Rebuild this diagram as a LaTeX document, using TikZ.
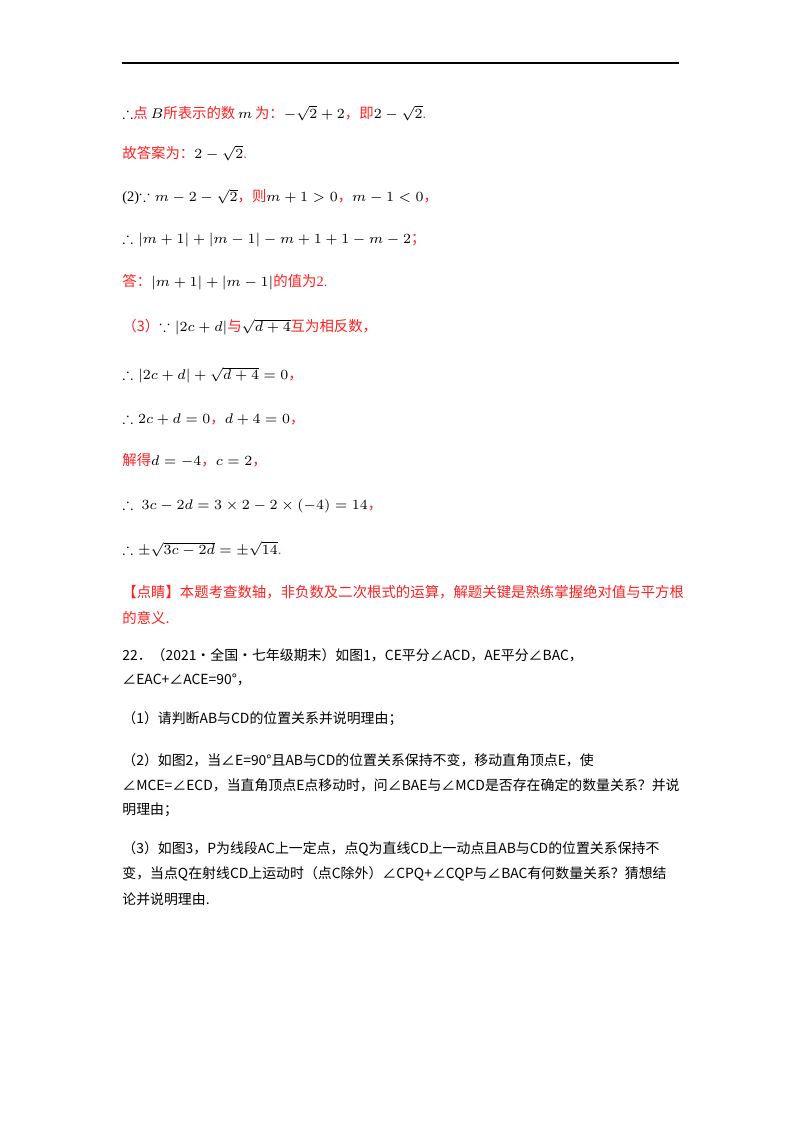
\documentclass[tikz,border=0pt]{standalone}
\usepackage{amssymb}
\usepackage{fontspec}
\setmainfont{Liberation Serif}
\newfontfamily\cjk{Noto Sans CJK SC}
\definecolor{rd}{HTML}{FF2020}
\begin{document}
\begin{tikzpicture}[x=0.5pt,y=-0.5pt,
  t/.style={anchor=west,inner sep=0pt,font=\fontsize{7.2}{9}\selectfont},
  q/.style={anchor=west,inner sep=0pt,font=\fontsize{6.95}{9}\selectfont\cjk},
  r/.style={t,text=rd}]
\useasboundingbox (0,0) rectangle (800,1132);
\fill[white] (0,0) rectangle (800,1132);
\draw[line width=0.6pt] (122,63) -- (679,63);
\node[t] (l1) at (122,113) {$\therefore$\textcolor{rd}{\cjk 点}$\,B$\textcolor{rd}{\cjk 所表示的数}$\,m\,$\textcolor{rd}{\cjk 为：}$-\sqrt{2}+2$\textcolor{rd}{\cjk ，即}$2-\sqrt{2}$\textcolor{rd}{.}};
\node[r] (l2) at (122,153) {{\cjk 故答案为：}\textcolor{black}{$2-\sqrt{2}$}.};
\node[t] (l3) at (122,197) {(2)$\because m-2-\sqrt{2}$\textcolor{rd}{\cjk ，则}$m+1>0$\textcolor{rd}{\cjk ，}$m-1<0$\textcolor{rd}{\cjk ，}};
\node[t] (l4) at (122,240) {$\therefore|m+1|+|m-1|-m+1+1-m-2$\textcolor{rd}{\cjk ；}};
\node[r] (l5) at (122,282) {{\cjk 答：}\textcolor{black}{$|m+1|+|m-1|$}{\cjk 的值为}2.};
\node[t] (l6) at (122,327) {\textcolor{rd}{\cjk （3）}$\because\left|2c+d\right|$\textcolor{rd}{\cjk 与}$\sqrt{d+4}$\textcolor{rd}{\cjk 互为相反数，}};
\node[t] (l7) at (122,375) {$\therefore\left|2c+d\right|+\sqrt{d+4}=0$\textcolor{rd}{\cjk ，}};
\node[t] (l8) at (122,419) {$\therefore 2c+d=0$\textcolor{rd}{\cjk ，}$d+4=0$\textcolor{rd}{\cjk ，}};
\node[t] (l9) at (122,460) {\textcolor{rd}{\cjk 解得}$d=-4$\textcolor{rd}{\cjk ，}$c=2$\textcolor{rd}{\cjk ，}};
\node[t] (l10) at (122,506) {$\therefore\ 3c-2d=3\times2-2\times\left(-4\right)=14$\textcolor{rd}{\cjk ，}};
\node[t] (l11) at (122,549) {$\therefore\pm\sqrt{3c-2d}=\pm\sqrt{14}$\textcolor{rd}{.}};
\node[r] (l12) at (122,592) {\cjk 【点睛】本题考查数轴，非负数及二次根式的运算，解题关键是熟练掌握绝对值与平方根};
\node[r] (l13) at (122,618) {\cjk 的意义.};
\node[q] (l14) at (122,655) {22．（2021·全国·七年级期末）如图1，CE平分∠ACD，AE平分∠BAC，};
\node[q] (l15) at (122,680) {∠EAC+∠ACE=90°，};
\node[q] (l16) at (122,719) {（1）请判断AB与CD的位置关系并说明理由；};
\node[q] (l17) at (122,760) {（2）如图2，当∠E=90°且AB与CD的位置关系保持不变，移动直角顶点E，使};
\node[q] (l18) at (122,785) {∠MCE=∠ECD，当直角顶点E点移动时，问∠BAE与∠MCD是否存在确定的数量关系？并说};
\node[q] (l19) at (122,810) {明理由；};
\node[q] (l20) at (122,849) {（3）如图3，P为线段AC上一定点，点Q为直线CD上一动点且AB与CD的位置关系保持不};
\node[q] (l21) at (122,874) {变，当点Q在射线CD上运动时（点C除外）∠CPQ+∠CQP与∠BAC有何数量关系？猜想结};
\node[q] (l22) at (122,899) {论并说明理由.};
\end{tikzpicture}
\end{document}
